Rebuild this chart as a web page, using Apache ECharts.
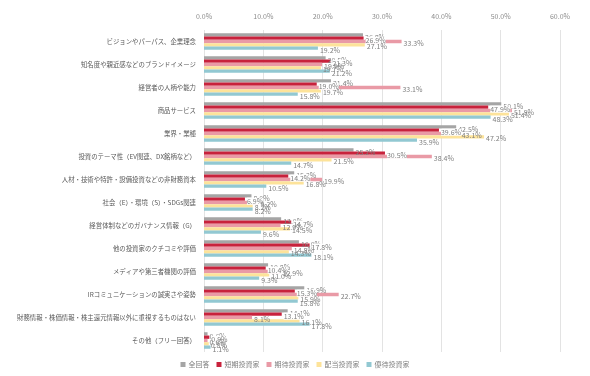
<!DOCTYPE html>
<html><head><meta charset="utf-8">
<script src="https://cdn.jsdelivr.net/npm/echarts@6/dist/echarts.min.js"></script>
<style>html,body{margin:0;padding:0;background:#fff}#c{width:590px;height:376px}</style>
</head><body><div id="c"></div>
<script>
var categories = ['ビジョンやパーパス、企業理念','知名度や親近感などのブランドイメージ','経営者の人柄や能力','商品サービス','業界・業種','投資のテーマ性（EV関連、DX銘柄など）','人材・技術や特許・設備投資などの非財務資本','社会（E）・環境（S）・SDGs関連','経営体制などのガバナンス情報（G）','他の投資家のクチコミや評価','メディアや第三者機関の評価','IRコミュニケーションの誠実さや姿勢','財務情報・株価情報・株主還元情報以外に重視するものはない','その他（フリー回答）'];
var seriesNames = ['全回答','短期投資家','期待投資家','配当投資家','優待投資家'];
var allResp   = [26.8,20.5,21.4,50.1,42.5,25.2,15.2,8.0,13.0,16.0,10.8,16.9,14.1,0.6];
var shortTerm = [26.9,21.3,19.0,47.9,39.6,30.5,14.2,6.9,14.7,17.8,10.4,15.3,13.1,0.9];
var expect    = [33.3,19.9,33.1,51.9,43.1,38.4,19.9,9.2,12.9,14.8,12.9,22.7,8.1,0.6];
var dividend  = [27.1,19.7,19.7,51.4,47.2,21.5,16.8,8.2,14.5,14.3,11.0,15.9,16.1,0.8];
var benefit   = [19.2,21.2,15.8,48.3,35.9,14.7,10.5,8.2,9.6,18.1,9.3,15.8,17.8,1.1];
var xTicks = [0,10,20,30,40,50,60];

var colors = ['#a5a5a5','#c8223c','#e99aa6','#fde39a','#92c8d2'];
var dataSets = [allResp, shortTerm, expect, dividend, benefit];
var series = dataSets.map(function(d,i){
  return {
    name: seriesNames[i], type:'bar', data:d, barGap:'0%', barCategoryGap:'28%',
    itemStyle:{color:colors[i]},
    label:{show:true, position:'right', distance:2, offset:[0,2], formatter:function(p){return p.value.toFixed(1)+'%';},
      fontSize:7, color:'#7f7f7f', fontFamily:'Noto Sans CJK JP',
      backgroundColor: i===1 ? '#fff' : 'transparent'}
  };
});
var chart = echarts.init(document.getElementById('c'), null, {renderer:'canvas'});
chart.setOption({
  animation:false,
  textStyle:{fontFamily:'Noto Sans CJK JP'},
  grid:{left:204, right:30, top:30, bottom:24, containLabel:false},
  legend:{data:seriesNames, bottom:3, left:'center', itemWidth:5, itemHeight:5, itemGap:7, icon:'rect',
    textStyle:{fontSize:7, color:'#7f7f7f', fontFamily:'Noto Sans CJK JP', padding:[0,0,0,-2]}},
  xAxis:{type:'value', position:'top', min:xTicks[0], max:xTicks[xTicks.length-1], interval:10,
    axisLine:{show:false}, axisTick:{show:false},
    axisLabel:{fontSize:7, color:'#8c8c8c', margin:10, formatter:function(v){return v.toFixed(1)+'%';}},
    splitLine:{lineStyle:{color:'#e3e3e3', width:1}}},
  yAxis:{type:'category', data:categories, inverse:true,
    axisLine:{show:false}, axisTick:{show:false},
    axisLabel:{fontSize:6.4, color:'#595959', margin:8, interval:0}},
  series: series
});
</script></body></html>
